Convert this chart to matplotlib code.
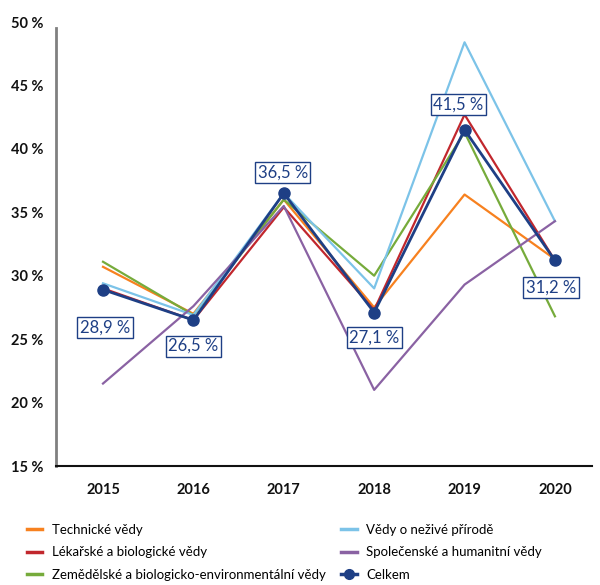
import matplotlib
matplotlib.use("Agg")
import matplotlib.pyplot as plt
from matplotlib.lines import Line2D

plt.rcParams["font.family"] = ["Lato", "DejaVu Sans"]

years = [2015, 2016, 2017, 2018, 2019, 2020]

technicke = [30.7, 27.0, 36.0, 27.5, 36.4, 31.3]
lekarske = [29.0, 26.5, 35.4, 27.3, 42.7, 31.2]
zemedelske = [31.1, 26.9, 36.0, 30.0, 41.3, 26.8]
nezive = [29.4, 26.9, 36.5, 29.0, 48.4, 34.3]
spolecenske = [21.5, 27.6, 35.5, 21.0, 29.3, 34.3]
celkem = [28.9, 26.5, 36.5, 27.1, 41.5, 31.2]

series_names = [
    "Technické vědy",
    "Lékařské a biologické vědy",
    "Zemědělské a biologicko-environmentální vědy",
    "Vědy o neživé přírodě",
    "Společenské a humanitní vědy",
]
series_values = [technicke, lekarske, zemedelske, nezive, spolecenske]
colors = ["#f7811f", "#c1272d", "#76ab3b", "#7cc3e8", "#8a62a3"]
navy = "#1e3f85"

# label offsets in pixels (dx, dy) relative to each Celkem point
label_offsets = [(2, -38), (0, -26), (-1, 21), (0, -25), (-6, 25), (-4, -27)]

fig = plt.figure(figsize=(6.0, 5.85), dpi=100)
ax = fig.add_axes([56 / 600, 1 - 466 / 585, 536 / 600, 444 / 585])

for name, vals, c in zip(series_names, series_values, colors):
    ax.plot(years, vals, color=c, lw=1.6, label=name, zorder=2)

ax.plot(years, celkem, color=navy, lw=2.0, marker="o", markersize=8,
        label="Celkem", zorder=3)

for x, v, (dx, dy) in zip(years, celkem, label_offsets):
    txt = f"{v:.1f} %".replace(".", ",")
    ax.annotate(txt, (x, v), xytext=(dx * 0.72, dy * 0.72),
                textcoords="offset points", ha="center", va="center",
                fontsize=12, color=navy, zorder=4,
                bbox=dict(boxstyle="square,pad=0.15", fc="white",
                          ec=navy, lw=1.0))

ax.set_xlim(2014.48, 2020.41)
ax.set_ylim(15, 50)
ax.set_xticks(years)
ax.set_xticklabels([str(y) for y in years], fontsize=10.5, fontweight="bold")
yt = list(range(15, 51, 5))
ax.set_yticks(yt)
ax.set_yticklabels([f"{t} %" for t in yt], fontsize=10.5, fontweight="bold")
ax.tick_params(axis="both", length=0, colors="#111111")
ax.tick_params(axis="x", pad=12)
ax.tick_params(axis="y", pad=9)

for s in ["top", "right"]:
    ax.spines[s].set_visible(False)
ax.spines["left"].set_color("#808080")
ax.spines["left"].set_linewidth(2.0)
ax.spines["left"].set_bounds(15, 49.5)
ax.spines["bottom"].set_color("#111111")
ax.spines["bottom"].set_linewidth(1.5)

handles = [Line2D([], [], color=c, lw=2.5) for c in colors]
handles.append(Line2D([], [], color=navy, lw=2.5, marker="o", markersize=7))
labels = series_names + ["Celkem"]
fig.legend(handles, labels, ncol=2, loc="upper left",
           bbox_to_anchor=(20 / 600, 1 - 517 / 585), frameon=False,
           borderpad=0, fontsize=9.5, handlelength=1.15, handletextpad=0.75,
           columnspacing=1.2, labelspacing=0.8)

fig.savefig("out.png", dpi=100)
